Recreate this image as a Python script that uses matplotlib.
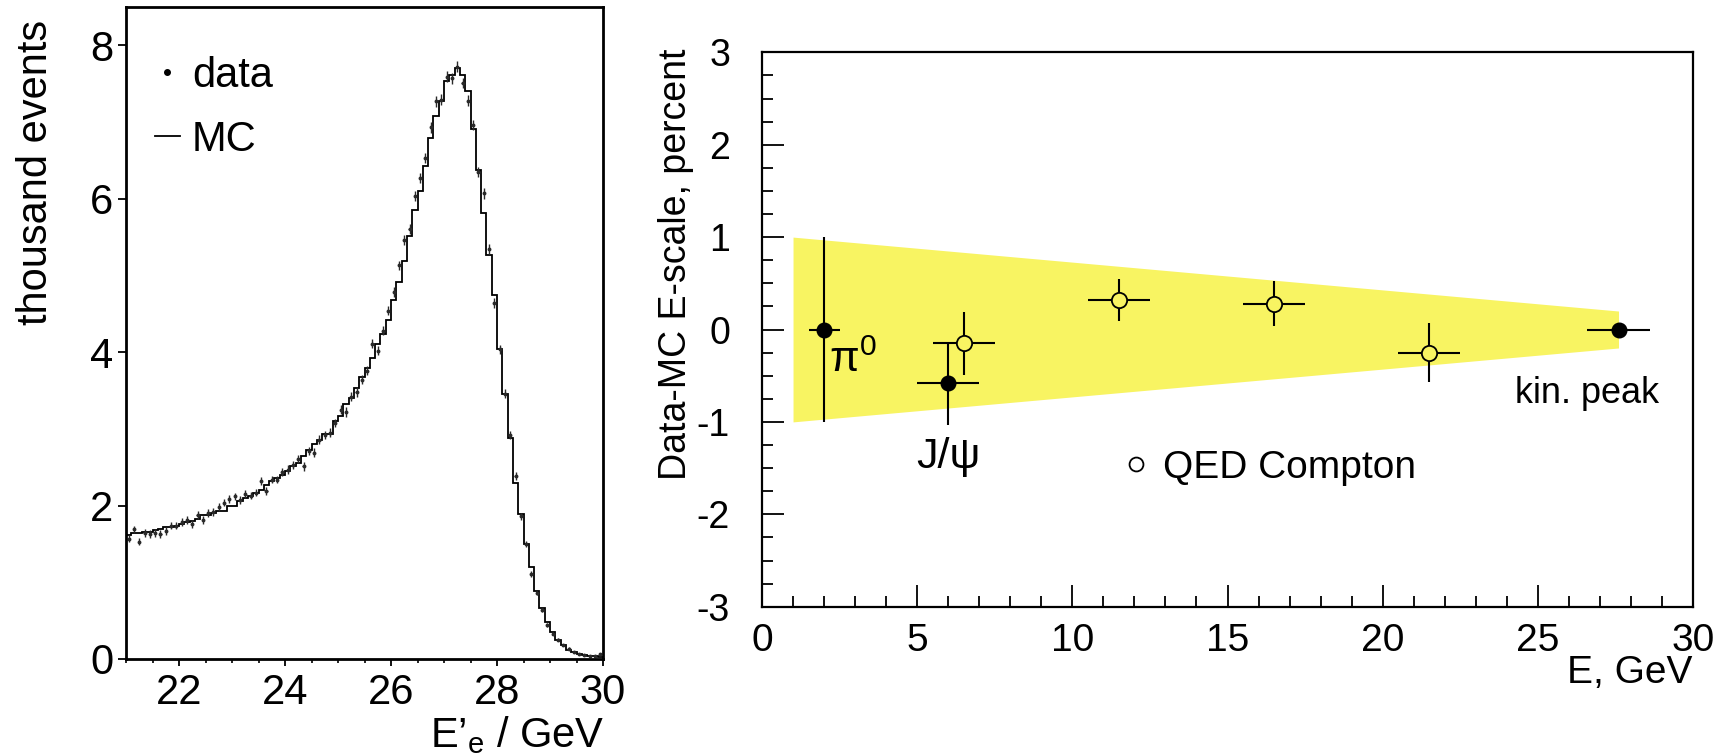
import matplotlib
matplotlib.use('Agg')
import matplotlib.pyplot as plt
from matplotlib.lines import Line2D
import matplotlib.ticker as mticker
import numpy as np

plt.rcParams['font.family'] = ['Liberation Sans', 'DejaVu Sans']
plt.rcParams['mathtext.fontset'] = 'custom'
plt.rcParams['mathtext.rm'] = 'Liberation Sans'
plt.rcParams['mathtext.it'] = 'Liberation Sans:italic'
plt.rcParams['axes.unicode_minus'] = False

NARROW = ['Liberation Sans Narrow', 'Liberation Sans', 'DejaVu Sans']

# ---------------- left panel data: E'_e spectrum (thousand events / 0.1 GeV) -----------
energy_edges = np.round(np.arange(21.0, 30.0001, 0.1), 2)

data_events = [
    1.57, 1.69, 1.53, 1.64, 1.63, 1.64, 1.63, 1.67, 1.74, 1.74,
    1.79, 1.81, 1.76, 1.88, 1.81, 1.90, 1.92, 1.98, 2.04, 2.09,
    2.12, 2.07, 2.15, 2.13, 2.17, 2.32, 2.19, 2.34, 2.34, 2.44,
    2.47, 2.53, 2.61, 2.51, 2.71, 2.69, 2.86, 2.92, 2.95, 3.08,
    3.25, 3.22, 3.42, 3.48, 3.64, 3.76, 4.11, 4.02, 4.28, 4.54,
    4.78, 5.13, 5.46, 5.60, 6.04, 6.27, 6.53, 6.93, 7.27, 7.29,
    7.59, 7.57, 7.72, 7.51, 7.28, 6.96, 6.35, 6.07, 5.35, 4.64,
    4.04, 3.46, 2.92, 2.39, 1.86, 1.50, 1.11, 0.86, 0.64, 0.44,
    0.33, 0.25, 0.18, 0.135, 0.09, 0.07, 0.05, 0.035, 0.035, 0.07,
]
data_errors = [
    0.05, 0.05, 0.05, 0.05, 0.05, 0.05, 0.05, 0.05, 0.05, 0.05,
    0.05, 0.05, 0.05, 0.05, 0.05, 0.05, 0.05, 0.05, 0.05, 0.05,
    0.05, 0.05, 0.05, 0.05, 0.05, 0.05, 0.05, 0.05, 0.05, 0.05,
    0.055, 0.055, 0.055, 0.055, 0.055, 0.055, 0.055, 0.055, 0.055, 0.055,
    0.06, 0.06, 0.06, 0.06, 0.06, 0.06, 0.06, 0.06, 0.06, 0.06,
    0.065, 0.065, 0.065, 0.065, 0.065, 0.065, 0.07, 0.07, 0.07, 0.07,
    0.07, 0.07, 0.07, 0.07, 0.07, 0.07, 0.07, 0.07, 0.065, 0.065,
    0.06, 0.06, 0.055, 0.05, 0.045, 0.04, 0.035, 0.03, 0.03, 0.025,
    0.02, 0.02, 0.015, 0.015, 0.01, 0.01, 0.01, 0.01, 0.01, 0.01,
]
mc_events = [
    1.62, 1.64, 1.64, 1.65, 1.66, 1.68, 1.70, 1.72, 1.72, 1.74,
    1.76, 1.78, 1.80, 1.82, 1.88, 1.88, 1.90, 1.93, 1.93, 2.00,
    2.00, 2.06, 2.10, 2.13, 2.16, 2.20, 2.27, 2.32, 2.36, 2.40,
    2.45, 2.52, 2.56, 2.64, 2.72, 2.80, 2.86, 2.93, 2.93, 3.10,
    3.17, 3.33, 3.40, 3.53, 3.68, 3.79, 3.93, 4.11, 4.24, 4.42,
    4.68, 4.92, 5.19, 5.52, 5.85, 6.10, 6.43, 6.79, 7.08, 7.28,
    7.53, 7.62, 7.70, 7.62, 7.40, 6.91, 6.37, 5.81, 5.27, 4.74,
    4.04, 3.46, 2.88, 2.30, 1.89, 1.50, 1.20, 0.88, 0.67, 0.48,
    0.35, 0.25, 0.18, 0.12, 0.09, 0.07, 0.057, 0.044, 0.035, 0.03,
]

left_xticks = [22, 24, 26, 28, 30]
left_yticks = [0, 2, 4, 6, 8]

# ---------------- right panel data: Data-MC energy scale (percent) ----------------
band_energy = [1.0, 27.6]
band_upper = [1.0, 0.2]
band_lower = [-1.0, -0.2]

filled_energy = [2.0, 6.0, 27.6]
filled_shift = [0.0, -0.58, 0.0]
filled_xerr = [0.5, 1.0, 1.0]
filled_yerr = [1.0, 0.45, 0.04]

qedc_energy = [6.5, 11.5, 16.5, 21.5]
qedc_shift = [-0.15, 0.32, 0.28, -0.25]
qedc_xerr = [1.0, 1.0, 1.0, 1.0]
qedc_yerr = [0.34, 0.23, 0.24, 0.32]

right_xticks = [0, 5, 10, 15, 20, 25, 30]
right_yticks = [-3, -2, -1, 0, 1, 2, 3]

YELLOW = '#f8f462'

fig = plt.figure(figsize=(17.28, 7.56), dpi=100)

# ================= left panel =================
ax1 = fig.add_axes([126 / 1728, 1 - 659 / 756, 477 / 1728, 652 / 756])
centers = 0.5 * (energy_edges[:-1] + energy_edges[1:])
ax1.stairs(mc_events, energy_edges, color='black', lw=1.3)
ax1.errorbar(centers, data_events, yerr=data_errors, xerr=0.02, fmt='o', ms=1.8,
             color='#2a2a2a', elinewidth=1.0, capsize=0)
ax1.set_xlim(21, 30)
ax1.set_ylim(0, 8.5)
ax1.set_xticks(left_xticks)
ax1.set_yticks(left_yticks)
ax1.xaxis.set_minor_locator(mticker.MultipleLocator(0.5))
ax1.tick_params(axis='both', which='major', direction='out', labelsize=30, width=1.3)
ax1.tick_params(axis='x', which='major', length=5, pad=5)
ax1.tick_params(axis='y', which='major', length=6, pad=3)
ax1.tick_params(axis='x', which='minor', direction='out', length=3, width=1.2)
for s in ax1.spines.values():
    s.set_linewidth(2.0)

handles = [Line2D([], [], marker='o', ms=4, ls='none', color='black'),
           Line2D([], [], color='black', lw=1.3)]
leg1 = ax1.legend(handles, ['data', 'MC'], loc='upper left', bbox_to_anchor=(0.06, 0.925),
                  frameon=False, fontsize=30, handlelength=0.6, handletextpad=0.3,
                  labelspacing=0.58, borderpad=0, borderaxespad=0)

fig.text(36 / 1728, 1 - 20 / 756, 'thousand events', rotation=90, ha='center', va='top',
         fontsize=30)
fig.text(605 / 1728, 1 - 747 / 756, r"E’$_\mathregular{e}$ / GeV", ha='right',
         va='baseline', fontsize=30)

# ================= right panel =================
ax2 = fig.add_axes([762 / 1728, 1 - 606.7 / 756, 931 / 1728, 554.4 / 756])
ax2.fill_between(band_energy, band_lower, band_upper, color=YELLOW, lw=0, zorder=1)
ax2.errorbar(filled_energy, filled_shift, xerr=filled_xerr, yerr=filled_yerr, fmt='o',
             ms=10.5, color='black', elinewidth=1.5, capsize=0, zorder=3)
ax2.errorbar(qedc_energy, qedc_shift, xerr=qedc_xerr, yerr=qedc_yerr, fmt='o',
             ms=11, mfc=YELLOW, mec='black', mew=1.3, color='black',
             elinewidth=1.5, capsize=0, zorder=3)
ax2.set_xlim(0, 30)
ax2.set_ylim(-3, 3)
ax2.set_xticks(right_xticks)
ax2.set_yticks(right_yticks)
ax2.xaxis.set_minor_locator(mticker.MultipleLocator(1))
ax2.yaxis.set_minor_locator(mticker.MultipleLocator(0.25))
ax2.tick_params(axis='both', which='both', direction='in', width=1.3)
ax2.tick_params(axis='both', which='major', length=16)
ax2.tick_params(axis='both', which='minor', length=8)
ax2.tick_params(axis='x', which='major', pad=12)
ax2.tick_params(axis='y', which='major', pad=23)
for lab in ax2.get_xticklabels():
    lab.set_family(NARROW)
    lab.set_fontsize(28)
for lab in ax2.get_yticklabels():
    lab.set_family(NARROW)
    lab.set_fontsize(27)
for s in ax2.spines.values():
    s.set_linewidth(1.6)

ax2.text(2.15, -0.12, r'$\mathregular{\pi^0}$', fontsize=31, va='top', ha='left')
ax2.text(6.0, -1.38, 'J/ψ', fontsize=31, ha='center', va='center', family=NARROW)
ax2.text(28.9, -0.69, 'kin. peak', fontsize=26, ha='right', va='center', family=NARROW)

qedc_handle = Line2D([], [], marker='o', ms=10, ls='none', mfc='white', mec='black', mew=1.3)
ax2.legend([qedc_handle], ['QED Compton'], loc='center left', bbox_to_anchor=(0.385, 0.25),
           frameon=False, handlelength=0.8, handletextpad=0.3, borderpad=0, borderaxespad=0,
           prop={'family': NARROW, 'size': 28})

fig.text(676 / 1728, 1 - 48 / 756, 'Data-MC E-scale, percent', rotation=90, ha='center',
         va='top', fontsize=27)
fig.text(1692 / 1728, 1 - 683 / 756, 'E, GeV', ha='right', va='baseline', fontsize=28,
         family=NARROW)

fig.savefig('out.png', dpi=100)
